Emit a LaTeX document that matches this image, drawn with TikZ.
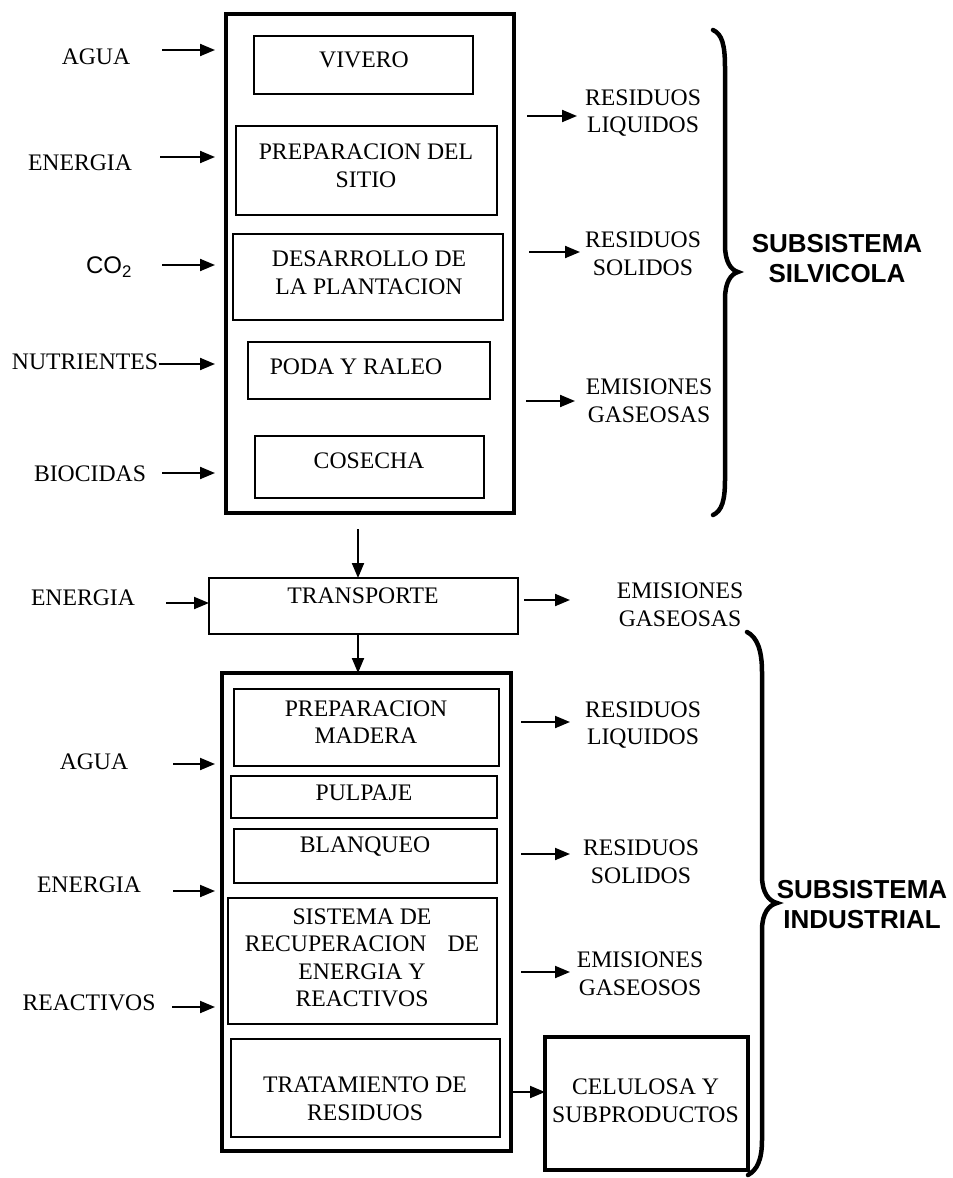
\documentclass[tikz,border=0pt]{standalone}
\usepackage{fontspec}
\setmainfont{Liberation Serif}
\newfontfamily\arial{Liberation Sans}
\usetikzlibrary{arrows.meta}
\begin{document}
\begin{tikzpicture}[x=1pt,y=-1pt,
  box/.style={draw=black,line width=1.6pt,inner sep=0pt,outer sep=0pt},
  bigbox/.style={draw=black,line width=4.5pt,inner sep=0pt,outer sep=0pt},
  celbox/.style={draw=black,line width=3.5pt,inner sep=0pt,outer sep=0pt},
  txt/.style={inner sep=0pt,align=center,font=\fontsize{23.7}{27.5}\selectfont},
  sub/.style={inner sep=0pt,align=center,font=\arial\bfseries\fontsize{26}{30}\selectfont},
  arr/.style={line width=2pt,-{Triangle[length=15pt,width=12pt]}},
  brc/.style={line width=4.5pt,line cap=round}]
\useasboundingbox (0,0) rectangle (953,1178);
% ---------- silvicola ----------
\node[bigbox,minimum width=288pt,minimum height=499pt] (outA) at (370,263.5) {};
\node[box,minimum width=219pt,minimum height=58pt] (viv) at (363.5,65) {};
\node[box,minimum width=261pt,minimum height=89pt] (prep) at (366.5,170.5) {};
\node[box,minimum width=270pt,minimum height=86pt] (desa) at (368,277) {};
\node[box,minimum width=242pt,minimum height=57pt] (poda) at (369,370.5) {};
\node[box,minimum width=229pt,minimum height=62pt] (cose) at (369.5,467) {};
\node[txt] (tviv) at (364,60) {VIVERO};
\node[txt] (tprep) at (366,166) {PREPARACION DEL\\SITIO};
\node[txt] (tdesa) at (369,273) {DESARROLLO DE\\LA PLANTACION};
\node[txt] (tpoda) at (356,367) {PODA Y RALEO};
\node[txt] (tcose) at (369,461) {COSECHA};
% inputs
\node[txt] (iagua) at (96,57) {AGUA};
\node[txt] (iener) at (80,163) {ENERGIA};
\node[inner sep=0pt,font=\arial\fontsize{24}{28}\selectfont] (ico2) at (109,267) {CO\textsubscript{2}};
\node[txt] (inut) at (85,362) {NUTRIENTES};
\node[txt] (ibio) at (90,474) {BIOCIDAS};
\coordinate (a1s) at (162,50);  \coordinate (a1e) at (215,50);
\coordinate (a2s) at (160,157); \coordinate (a2e) at (215,157);
\coordinate (a3s) at (162,265); \coordinate (a3e) at (215,265);
\coordinate (a4s) at (159,364); \coordinate (a4e) at (215,364);
\coordinate (a5s) at (162,473); \coordinate (a5e) at (215,473);
\draw[arr] (a1s) -- (a1e);
\draw[arr] (a2s) -- (a2e);
\draw[arr] (a3s) -- (a3e);
\draw[arr] (a4s) -- (a4e);
\draw[arr] (a5s) -- (a5e);
% outputs
\node[txt] (orl1) at (643,113) {RESIDUOS\\LIQUIDOS};
\node[txt] (ors1) at (643,254) {RESIDUOS\\SOLIDOS};
\node[txt] (oeg1) at (649,401) {EMISIONES\\GASEOSAS};
\coordinate (b1s) at (527,116); \coordinate (b1e) at (577,116);
\coordinate (b2s) at (529,252); \coordinate (b2e) at (580,252);
\coordinate (b3s) at (526,401); \coordinate (b3e) at (575,401);
\draw[arr] (b1s) -- (b1e);
\draw[arr] (b2s) -- (b2e);
\draw[arr] (b3s) -- (b3e);
\draw[brc] (713,30) .. controls (722,34) and (725,45) .. (725,67) -- (725,245)
  .. controls (725,262) and (731,270) .. (738,272)
  .. controls (731,274) and (725,282) .. (725,299) -- (725,480)
  .. controls (725,500) and (722,511) .. (713,515);
\node[sub] (ssil) at (837,259) {SUBSISTEMA\\SILVICOLA};
% ---------- transporte ----------
\node[box,minimum width=309pt,minimum height=56pt] (trans) at (363.5,606) {};
\node[txt] (ttrans) at (363,596) {TRANSPORTE};
\coordinate (down1) at (358,529);
\draw[arr] (down1) -- (down1 |- trans.north);
\node[txt] (iener2) at (83,598) {ENERGIA};
\coordinate (c1s) at (166,603);
\draw[arr] (c1s) -- (c1s -| trans.west);
\coordinate (c2s) at (524,600); \coordinate (c2e) at (570,600);
\draw[arr] (c2s) -- (c2e);
\node[txt] (oegt) at (680,605) {EMISIONES\\GASEOSAS};
% ---------- industrial ----------
\node[bigbox,minimum width=289pt,minimum height=478pt] (outB) at (366.5,912) {};
\draw[arr] (down1 |- trans.south) -- (down1 |- outB.north);
\node[box,minimum width=265pt,minimum height=77pt] (prepm) at (366.5,727.5) {};
\node[box,minimum width=266pt,minimum height=42pt] (pulp) at (364,797) {};
\node[box,minimum width=263pt,minimum height=54pt] (blan) at (365.5,856) {};
\node[box,minimum width=269pt,minimum height=126pt] (sist) at (362.5,961) {};
\node[box,minimum width=269pt,minimum height=98pt] (trat) at (365.5,1088) {};
\node[celbox,minimum width=203pt,minimum height=133pt] (cel) at (646.5,1103.5) {};
\node[txt] (tprepm) at (366,722) {PREPARACION\\MADERA};
\node[txt] (tpulp) at (364,793) {PULPAJE};
\node[txt] (tblan) at (365,847) {BLANQUEO};
\node[txt] (tsist) at (362,958) {SISTEMA DE\\RECUPERACION\hspace{21pt}DE\\ENERGIA Y\\REACTIVOS};
\node[txt] (ttrat) at (365,1099) {TRATAMIENTO DE\\RESIDUOS};
\node[txt] (tcel) at (645.5,1101) {CELULOSA Y\\SUBPRODUCTOS};
\coordinate (ce) at (0,1092);
\draw[arr] (outB.east |- ce) -- (cel.west |- ce);
% inputs
\node[txt] (iagua2) at (94,762) {AGUA};
\node[txt] (iener3) at (89,885) {ENERGIA};
\node[txt] (ireac) at (89,1003) {REACTIVOS};
\coordinate (d1s) at (173,764);  \coordinate (d1e) at (215,764);
\coordinate (d2s) at (173,891);  \coordinate (d2e) at (215,891);
\coordinate (d3s) at (172,1007); \coordinate (d3e) at (215,1007);
\draw[arr] (d1s) -- (d1e);
\draw[arr] (d2s) -- (d2e);
\draw[arr] (d3s) -- (d3e);
% outputs
\node[txt] (orl2) at (643,725) {RESIDUOS\\LIQUIDOS};
\node[txt] (ors2) at (641,862) {RESIDUOS\\SOLIDOS};
\node[txt] (oeg2) at (640,974) {EMISIONES\\GASEOSOS};
\coordinate (e1s) at (521,722); \coordinate (e1e) at (570,722);
\coordinate (e2s) at (521,854); \coordinate (e2e) at (570,854);
\coordinate (e3s) at (521,972); \coordinate (e3e) at (570,972);
\draw[arr] (e1s) -- (e1e);
\draw[arr] (e2s) -- (e2e);
\draw[arr] (e3s) -- (e3e);
\draw[brc] (747,632) .. controls (757,637) and (762,650) .. (762,672) -- (762,876)
  .. controls (762,893) and (769,901) .. (777,903)
  .. controls (769,905) and (762,913) .. (762,930) -- (762,1140)
  .. controls (762,1160) and (757,1170) .. (748,1175);
\node[sub] (sind) at (862,905) {SUBSISTEMA\\INDUSTRIAL};
\end{tikzpicture}
\end{document}
